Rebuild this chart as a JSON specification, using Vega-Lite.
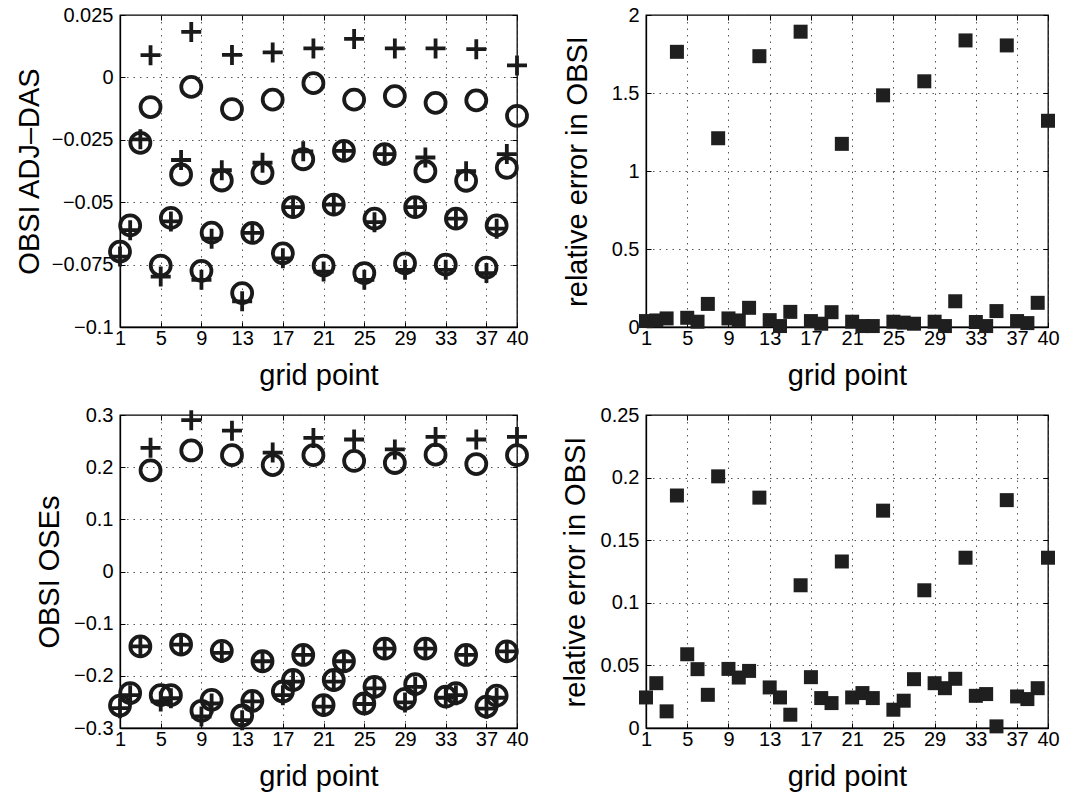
{
  "$schema": "https://vega.github.io/schema/vega-lite/v6.json",
  "padding": {"left": 14, "top": 4, "right": 5, "bottom": 5},
  "background": "white",
  "datasets": {
    "adj": [
      {"gp":1,"type":"circle","value":-0.0698},{"gp":1,"type":"plus","value":-0.0718},
      {"gp":2,"type":"circle","value":-0.0593},{"gp":2,"type":"plus","value":-0.0612},
      {"gp":3,"type":"circle","value":-0.0262},{"gp":3,"type":"plus","value":-0.0248},
      {"gp":4,"type":"circle","value":-0.0119},{"gp":4,"type":"plus","value":0.0089},
      {"gp":5,"type":"circle","value":-0.0754},{"gp":5,"type":"plus","value":-0.0798},
      {"gp":6,"type":"circle","value":-0.0563},{"gp":6,"type":"plus","value":-0.0577},
      {"gp":7,"type":"circle","value":-0.0389},{"gp":7,"type":"plus","value":-0.0331},
      {"gp":8,"type":"circle","value":-0.0038},{"gp":8,"type":"plus","value":0.0182},
      {"gp":9,"type":"circle","value":-0.0775},{"gp":9,"type":"plus","value":-0.0811},
      {"gp":10,"type":"circle","value":-0.0622},{"gp":10,"type":"plus","value":-0.0646},
      {"gp":11,"type":"circle","value":-0.0413},{"gp":11,"type":"plus","value":-0.0372},
      {"gp":12,"type":"circle","value":-0.0127},{"gp":12,"type":"plus","value":0.009},
      {"gp":13,"type":"circle","value":-0.0864},{"gp":13,"type":"plus","value":-0.0897},
      {"gp":14,"type":"circle","value":-0.0623},{"gp":14,"type":"plus","value":-0.0623},
      {"gp":15,"type":"circle","value":-0.0383},{"gp":15,"type":"plus","value":-0.0342},
      {"gp":16,"type":"circle","value":-0.0089},{"gp":16,"type":"plus","value":0.0100},
      {"gp":17,"type":"circle","value":-0.0705},{"gp":17,"type":"plus","value":-0.0725},
      {"gp":18,"type":"circle","value":-0.0520},{"gp":18,"type":"plus","value":-0.0520},
      {"gp":19,"type":"circle","value":-0.0328},{"gp":19,"type":"plus","value":-0.0296},
      {"gp":20,"type":"circle","value":-0.0023},{"gp":20,"type":"plus","value":0.0116},
      {"gp":21,"type":"circle","value":-0.0754},{"gp":21,"type":"plus","value":-0.0778},
      {"gp":22,"type":"circle","value":-0.0510},{"gp":22,"type":"plus","value":-0.0510},
      {"gp":23,"type":"circle","value":-0.0294},{"gp":23,"type":"plus","value":-0.0294},
      {"gp":24,"type":"circle","value":-0.0089},{"gp":24,"type":"plus","value":0.0154},
      {"gp":25,"type":"circle","value":-0.0784},{"gp":25,"type":"plus","value":-0.0811},
      {"gp":26,"type":"circle","value":-0.0566},{"gp":26,"type":"plus","value":-0.0580},
      {"gp":27,"type":"circle","value":-0.0307},{"gp":27,"type":"plus","value":-0.0307},
      {"gp":28,"type":"circle","value":-0.0075},{"gp":28,"type":"plus","value":0.0116},
      {"gp":29,"type":"circle","value":-0.0745},{"gp":29,"type":"plus","value":-0.0771},
      {"gp":30,"type":"circle","value":-0.0520},{"gp":30,"type":"plus","value":-0.0520},
      {"gp":31,"type":"circle","value":-0.0376},{"gp":31,"type":"plus","value":-0.0321},
      {"gp":32,"type":"circle","value":-0.0102},{"gp":32,"type":"plus","value":0.0116},
      {"gp":33,"type":"circle","value":-0.0750},{"gp":33,"type":"plus","value":-0.0771},
      {"gp":34,"type":"circle","value":-0.0566},{"gp":34,"type":"plus","value":-0.0566},
      {"gp":35,"type":"circle","value":-0.0414},{"gp":35,"type":"plus","value":-0.0376},
      {"gp":36,"type":"circle","value":-0.0092},{"gp":36,"type":"plus","value":0.0113},
      {"gp":37,"type":"circle","value":-0.0762},{"gp":37,"type":"plus","value":-0.0784},
      {"gp":38,"type":"circle","value":-0.0593},{"gp":38,"type":"plus","value":-0.0606},
      {"gp":39,"type":"circle","value":-0.0362},{"gp":39,"type":"plus","value":-0.0307},
      {"gp":40,"type":"circle","value":-0.0154},{"gp":40,"type":"plus","value":0.0048}
    ],
    "adjerr": [
      {"gp":1,"err":0.038},{"gp":2,"err":0.042},{"gp":3,"err":0.055},{"gp":4,"err":1.764},
      {"gp":5,"err":0.059},{"gp":6,"err":0.034},{"gp":7,"err":0.148},{"gp":8,"err":1.21},
      {"gp":9,"err":0.055},{"gp":10,"err":0.042},{"gp":11,"err":0.123},{"gp":12,"err":1.736},
      {"gp":13,"err":0.044},{"gp":14,"err":0.006},{"gp":15,"err":0.097},{"gp":16,"err":1.893},
      {"gp":17,"err":0.038},{"gp":18,"err":0.021},{"gp":19,"err":0.095},{"gp":20,"err":1.174},
      {"gp":21,"err":0.034},{"gp":22,"err":0.006},{"gp":23,"err":0.006},{"gp":24,"err":1.485},
      {"gp":25,"err":0.034},{"gp":26,"err":0.028},{"gp":27,"err":0.021},{"gp":28,"err":1.575},
      {"gp":29,"err":0.034},{"gp":30,"err":0.006},{"gp":31,"err":0.165},{"gp":32,"err":1.837},
      {"gp":33,"err":0.032},{"gp":34,"err":0.006},{"gp":35,"err":0.102},{"gp":36,"err":1.805},
      {"gp":37,"err":0.038},{"gp":38,"err":0.025},{"gp":39,"err":0.155},{"gp":40,"err":1.322}
    ],
    "ose": [
      {"gp":1,"type":"circle","value":-0.257},{"gp":1,"type":"plus","value":-0.262},
      {"gp":2,"type":"circle","value":-0.233},{"gp":2,"type":"plus","value":-0.237},
      {"gp":3,"type":"circle","value":-0.1436},{"gp":3,"type":"plus","value":-0.1436},
      {"gp":4,"type":"circle","value":0.194},{"gp":4,"type":"plus","value":0.237},
      {"gp":5,"type":"circle","value":-0.237},{"gp":5,"type":"plus","value":-0.249},
      {"gp":6,"type":"circle","value":-0.237},{"gp":6,"type":"plus","value":-0.243},
      {"gp":7,"type":"circle","value":-0.140},{"gp":7,"type":"plus","value":-0.140},
      {"gp":8,"type":"circle","value":0.232},{"gp":8,"type":"plus","value":0.290},
      {"gp":9,"type":"circle","value":-0.267},{"gp":9,"type":"plus","value":-0.278},
      {"gp":10,"type":"circle","value":-0.246},{"gp":10,"type":"plus","value":-0.253},
      {"gp":11,"type":"circle","value":-0.152},{"gp":11,"type":"plus","value":-0.156},
      {"gp":12,"type":"circle","value":0.223},{"gp":12,"type":"plus","value":0.270},
      {"gp":13,"type":"circle","value":-0.276},{"gp":13,"type":"plus","value":-0.285},
      {"gp":14,"type":"circle","value":-0.248},{"gp":14,"type":"plus","value":-0.249},
      {"gp":15,"type":"circle","value":-0.172},{"gp":15,"type":"plus","value":-0.172},
      {"gp":16,"type":"circle","value":0.204},{"gp":16,"type":"plus","value":0.228},
      {"gp":17,"type":"circle","value":-0.230},{"gp":17,"type":"plus","value":-0.237},
      {"gp":18,"type":"circle","value":-0.208},{"gp":18,"type":"plus","value":-0.211},
      {"gp":19,"type":"circle","value":-0.160},{"gp":19,"type":"plus","value":-0.160},
      {"gp":20,"type":"circle","value":0.223},{"gp":20,"type":"plus","value":0.256},
      {"gp":21,"type":"circle","value":-0.256},{"gp":21,"type":"plus","value":-0.259},
      {"gp":22,"type":"circle","value":-0.208},{"gp":22,"type":"plus","value":-0.211},
      {"gp":23,"type":"circle","value":-0.172},{"gp":23,"type":"plus","value":-0.172},
      {"gp":24,"type":"circle","value":0.212},{"gp":24,"type":"plus","value":0.253},
      {"gp":25,"type":"circle","value":-0.253},{"gp":25,"type":"plus","value":-0.254},
      {"gp":26,"type":"circle","value":-0.221},{"gp":26,"type":"plus","value":-0.224},
      {"gp":27,"type":"circle","value":-0.148},{"gp":27,"type":"plus","value":-0.148},
      {"gp":28,"type":"circle","value":0.208},{"gp":28,"type":"plus","value":0.234},
      {"gp":29,"type":"circle","value":-0.244},{"gp":29,"type":"plus","value":-0.251},
      {"gp":30,"type":"circle","value":-0.216},{"gp":30,"type":"plus","value":-0.221},
      {"gp":31,"type":"circle","value":-0.148},{"gp":31,"type":"plus","value":-0.148},
      {"gp":32,"type":"circle","value":0.224},{"gp":32,"type":"plus","value":0.258},
      {"gp":33,"type":"circle","value":-0.240},{"gp":33,"type":"plus","value":-0.242},
      {"gp":34,"type":"circle","value":-0.233},{"gp":34,"type":"plus","value":-0.237},
      {"gp":35,"type":"circle","value":-0.160},{"gp":35,"type":"plus","value":-0.160},
      {"gp":36,"type":"circle","value":0.206},{"gp":36,"type":"plus","value":0.253},
      {"gp":37,"type":"circle","value":-0.259},{"gp":37,"type":"plus","value":-0.263},
      {"gp":38,"type":"circle","value":-0.238},{"gp":38,"type":"plus","value":-0.242},
      {"gp":39,"type":"circle","value":-0.153},{"gp":39,"type":"plus","value":-0.153},
      {"gp":40,"type":"circle","value":0.223},{"gp":40,"type":"plus","value":0.258}
    ],
    "oseerr": [
      {"gp":1,"err":0.0244},{"gp":2,"err":0.0358},{"gp":3,"err":0.0133},{"gp":4,"err":0.1857},
      {"gp":5,"err":0.0589},{"gp":6,"err":0.047},{"gp":7,"err":0.0265},{"gp":8,"err":0.201},
      {"gp":9,"err":0.0472},{"gp":10,"err":0.0403},{"gp":11,"err":0.0456},{"gp":12,"err":0.184},
      {"gp":13,"err":0.0324},{"gp":14,"err":0.0244},{"gp":15,"err":0.0106},{"gp":16,"err":0.114},
      {"gp":17,"err":0.0406},{"gp":18,"err":0.0239},{"gp":19,"err":0.0199},{"gp":20,"err":0.133},
      {"gp":21,"err":0.0244},{"gp":22,"err":0.0279},{"gp":23,"err":0.0239},{"gp":24,"err":0.1736},
      {"gp":25,"err":0.0146},{"gp":26,"err":0.0218},{"gp":27,"err":0.039},{"gp":28,"err":0.110},
      {"gp":29,"err":0.0358},{"gp":30,"err":0.0318},{"gp":31,"err":0.0393},{"gp":32,"err":0.136},
      {"gp":33,"err":0.0257},{"gp":34,"err":0.0271},{"gp":35,"err":0.0013},{"gp":36,"err":0.182},
      {"gp":37,"err":0.0252},{"gp":38,"err":0.0231},{"gp":39,"err":0.0318},{"gp":40,"err":0.136}
    ]
  },
  "columns": 2,
  "spacing": {"row": 88, "column": 129},
  "bounds": "flush",
  "concat": [
    {
      "width": 397, "height": 312,
      "data": {"name": "adj"},
      "layer": [
        {
          "mark": {"type": "point", "filled": false, "size": 400, "strokeWidth": 3.8, "color": "#1a1a1a", "opacity": 1},
          "encoding": {
            "x": {"field": "gp", "type": "quantitative", "scale": {"domain": [1, 40], "nice": false, "zero": false},
              "axis": {"orient": "bottom", "values": [1,5,9,13,17,21,25,29,33,37,40], "title": "grid point", "grid": true}},
            "y": {"field": "value", "type": "quantitative", "scale": {"domain": [-0.1, 0.025], "nice": false, "zero": false},
              "axis": {"orient": "left", "values": [-0.1,-0.075,-0.05,-0.025,0,0.025], "labelExpr": "format(datum.value, '.3~f')", "title": "OBSI ADJ–DAS", "titleX": -76, "grid": true}},
            "shape": {"field": "type", "type": "nominal", "scale": {"domain": ["circle","plus"], "range": ["circle", "M-1,0H1M0,-1V1"]}, "legend": null}
          }
        },
        {
          "mark": {"type": "point", "opacity": 0},
          "encoding": {
            "x": {"field": "gp", "type": "quantitative", "axis": {"orient": "top", "values": [1,5,9,13,17,21,25,29,33,37,40], "labels": false, "title": null, "grid": false, "domain": false}},
            "y": {"field": "value", "type": "quantitative", "axis": {"orient": "right", "values": [-0.1,-0.075,-0.05,-0.025,0,0.025], "labels": false, "title": null, "grid": false, "domain": false}}
          }
        }
      ],
      "resolve": {"axis": {"x": "independent", "y": "independent"}}
    },
    {
      "width": 402, "height": 312,
      "data": {"name": "adjerr"},
      "layer": [
        {
          "mark": {"type": "square", "filled": true, "size": 196, "color": "#1f1f1f", "opacity": 1},
          "encoding": {
            "x": {"field": "gp", "type": "quantitative", "scale": {"domain": [1, 40], "nice": false, "zero": false},
              "axis": {"orient": "bottom", "values": [1,5,9,13,17,21,25,29,33,37,40], "title": "grid point", "grid": true}},
            "y": {"field": "err", "type": "quantitative", "scale": {"domain": [0, 2], "nice": false},
              "axis": {"orient": "left", "values": [0,0.5,1,1.5,2], "labelExpr": "format(datum.value, '.3~f')", "title": "relative error in OBSI", "titleX": -54, "grid": true}}
          }
        },
        {
          "mark": {"type": "point", "opacity": 0},
          "encoding": {
            "x": {"field": "gp", "type": "quantitative", "axis": {"orient": "top", "values": [1,5,9,13,17,21,25,29,33,37,40], "labels": false, "title": null, "grid": false, "domain": false}},
            "y": {"field": "err", "type": "quantitative", "axis": {"orient": "right", "values": [0,0.5,1,1.5,2], "labels": false, "title": null, "grid": false, "domain": false}}
          }
        }
      ],
      "resolve": {"axis": {"x": "independent", "y": "independent"}}
    },
    {
      "width": 397, "height": 313,
      "data": {"name": "ose"},
      "layer": [
        {
          "mark": {"type": "point", "filled": false, "size": 400, "strokeWidth": 3.8, "color": "#1a1a1a", "opacity": 1},
          "encoding": {
            "x": {"field": "gp", "type": "quantitative", "scale": {"domain": [1, 40], "nice": false, "zero": false},
              "axis": {"orient": "bottom", "values": [1,5,9,13,17,21,25,29,33,37,40], "title": "grid point", "grid": true}},
            "y": {"field": "value", "type": "quantitative", "scale": {"domain": [-0.3, 0.3], "nice": false, "zero": false},
              "axis": {"orient": "left", "values": [-0.3,-0.2,-0.1,0,0.1,0.2,0.3], "labelExpr": "format(datum.value, '.3~f')", "title": "OBSI OSEs", "titleX": -56, "grid": true}},
            "shape": {"field": "type", "type": "nominal", "scale": {"domain": ["circle","plus"], "range": ["circle", "M-1,0H1M0,-1V1"]}, "legend": null}
          }
        },
        {
          "mark": {"type": "point", "opacity": 0},
          "encoding": {
            "x": {"field": "gp", "type": "quantitative", "axis": {"orient": "top", "values": [1,5,9,13,17,21,25,29,33,37,40], "labels": false, "title": null, "grid": false, "domain": false}},
            "y": {"field": "value", "type": "quantitative", "axis": {"orient": "right", "values": [-0.3,-0.2,-0.1,0,0.1,0.2,0.3], "labels": false, "title": null, "grid": false, "domain": false}}
          }
        }
      ],
      "resolve": {"axis": {"x": "independent", "y": "independent"}}
    },
    {
      "width": 402, "height": 313,
      "data": {"name": "oseerr"},
      "layer": [
        {
          "mark": {"type": "square", "filled": true, "size": 196, "color": "#1f1f1f", "opacity": 1},
          "encoding": {
            "x": {"field": "gp", "type": "quantitative", "scale": {"domain": [1, 40], "nice": false, "zero": false},
              "axis": {"orient": "bottom", "values": [1,5,9,13,17,21,25,29,33,37,40], "title": "grid point", "grid": true}},
            "y": {"field": "err", "type": "quantitative", "scale": {"domain": [0, 0.25], "nice": false},
              "axis": {"orient": "left", "values": [0,0.05,0.1,0.15,0.2,0.25], "labelExpr": "format(datum.value, '.3~f')", "title": "relative error in OBSI", "titleX": -56, "grid": true}}
          }
        },
        {
          "mark": {"type": "point", "opacity": 0},
          "encoding": {
            "x": {"field": "gp", "type": "quantitative", "axis": {"orient": "top", "values": [1,5,9,13,17,21,25,29,33,37,40], "labels": false, "title": null, "grid": false, "domain": false}},
            "y": {"field": "err", "type": "quantitative", "axis": {"orient": "right", "values": [0,0.05,0.1,0.15,0.2,0.25], "labels": false, "title": null, "grid": false, "domain": false}}
          }
        }
      ],
      "resolve": {"axis": {"x": "independent", "y": "independent"}}
    }
  ],
  "config": {
    "font": "Liberation Sans",
    "view": {"stroke": "#000", "strokeWidth": 1.3},
    "axis": {
      "labelFont": "Liberation Sans", "labelFontSize": 20, "labelColor": "#000",
      "titleFont": "Liberation Sans", "titleFontSize": 29, "titleFontWeight": "normal", "titleColor": "#000",
      "domainColor": "#000", "domainWidth": 1.3,
      "tickColor": "#000", "tickSize": -5, "tickWidth": 1,
      "labelOverlap": false, "labelFlush": false,
      "gridColor": "#444", "gridDash": [1.5, 5], "gridWidth": 1, "gridOpacity": 0.9
    },
    "axisX": {"labelPadding": 6, "titleY": 34},
    "axisY": {"labelPadding": 12}
  }
}
